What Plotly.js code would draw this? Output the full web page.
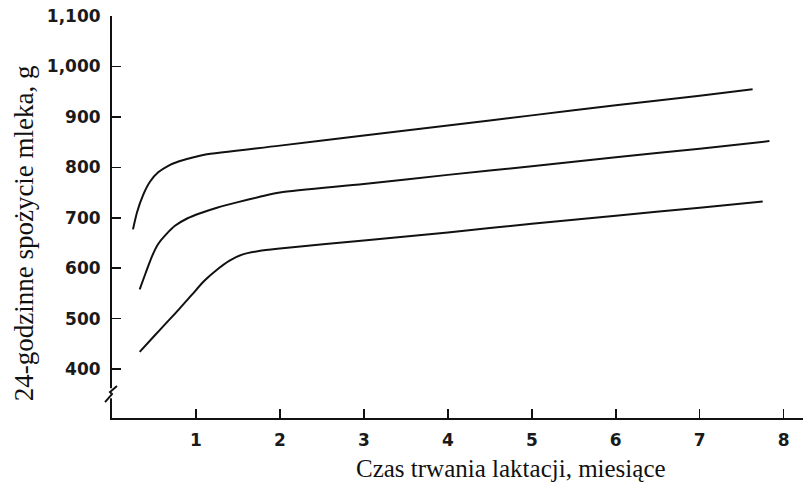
<!DOCTYPE html>
<html>
<head>
<meta charset="utf-8">
<script src="https://cdn.plot.ly/plotly-3.0.1.min.js"></script>
<style>html,body{margin:0;padding:0;background:#fff;}#chart{width:803px;height:483px;}</style>
</head>
<body>
<div id="chart"></div>
<script>
// Months of lactation and 24-h milk intake (g) for three curves
const upperMonths = [0.25, 0.30, 0.37, 0.45, 0.55, 0.67, 0.80, 0.95, 1.10, 2, 3, 4, 5, 6, 7, 7.63];
const upperIntake = [677, 712, 745, 771, 790, 803, 812, 819, 825, 843, 863, 883, 903, 923, 942, 955];

const middleMonths = [0.33, 0.40, 0.48, 0.55, 0.65, 0.75, 0.90, 1.05, 1.25, 1.50, 1.75, 2, 3, 4, 5, 6, 7, 7.83];
const middleIntake = [558, 590, 625, 648, 668, 684, 699, 709, 720, 731, 741, 750, 767, 785, 802, 820, 837, 852];

const lowerMonths = [0.33, 0.50, 0.65, 0.80, 0.95, 1.10, 1.25, 1.40, 1.55, 1.75, 2, 3, 4, 5, 6, 7, 7.75];
const lowerIntake = [434, 465, 492, 519, 547, 575, 597, 615, 627, 634, 639, 655, 671, 688, 704, 720, 732];

const xTickVals = [1, 2, 3, 4, 5, 6, 7, 8];
const yTickVals = [400, 500, 600, 700, 800, 900, 1000, 1100];
const yTickText = ["400", "500", "600", "700", "800", "900", "1,000", "1,100"];

const xTitle = "Czas trwania laktacji, miesiące";
const yTitle = "24-godzinne spożycie mleka, g";

const lineStyle = {color: "#111", width: 2, shape: "spline", smoothing: 0.8};
const traces = [
  {x: upperMonths, y: upperIntake, mode: "lines", line: lineStyle, hoverinfo: "skip"},
  {x: middleMonths, y: middleIntake, mode: "lines", line: lineStyle, hoverinfo: "skip"},
  {x: lowerMonths, y: lowerIntake, mode: "lines", line: lineStyle, hoverinfo: "skip"}
];

const tickFont = {family: "DejaVu Sans", size: 17, color: "#1a1a1a", weight: "bold"};

const layout = {
  width: 803, height: 483,
  margin: {l: 112, r: 0, t: 16, b: 65, pad: 0},
  paper_bgcolor: "#fff", plot_bgcolor: "#fff",
  showlegend: false,
  xaxis: {
    range: [0, 8.23], showgrid: false, zeroline: false,
    showline: true, linecolor: "#111", linewidth: 2,
    tickmode: "array", tickvals: xTickVals,
    ticks: "inside", ticklen: 9, tickwidth: 1.5, tickcolor: "#111",
    tickfont: tickFont, ticklabelstandoff: 6
  },
  yaxis: {
    range: [303, 1100], showgrid: false, zeroline: false,
    showline: true, linecolor: "#111", linewidth: 2,
    tickmode: "array", tickvals: yTickVals, ticktext: yTickText,
    ticks: "inside", ticklen: 9, tickwidth: 1.5, tickcolor: "#111",
    tickfont: tickFont, ticklabelstandoff: 6
  },
  annotations: [
    {text: xTitle, xref: "paper", yref: "paper", x: 0.577, y: -0.088, xanchor: "center", yanchor: "top",
     showarrow: false, font: {family: "Liberation Serif", size: 25, color: "#111"}},
    {text: yTitle, xref: "paper", yref: "paper", x: -0.127, y: 0.46, xanchor: "center", yanchor: "middle",
     textangle: -90, showarrow: false, font: {family: "Liberation Serif", size: 27, color: "#111"}}
  ],
  shapes: [
    {type: "rect", xref: "paper", yref: "y", x0: -0.005, x1: 0.005, y0: 342, y1: 362,
     fillcolor: "#fff", line: {width: 0}, layer: "above"},
    {type: "path", xref: "paper", yref: "y",
     path: "M -0.0101,334.5 L 0,350.4 L -0.0029,354.4 L 0.0072,366.3",
     line: {color: "#111", width: 2}, layer: "above"}
  ]
};

Plotly.newPlot("chart", traces, layout, {staticPlot: true, displayModeBar: false});
</script>
</body>
</html>
